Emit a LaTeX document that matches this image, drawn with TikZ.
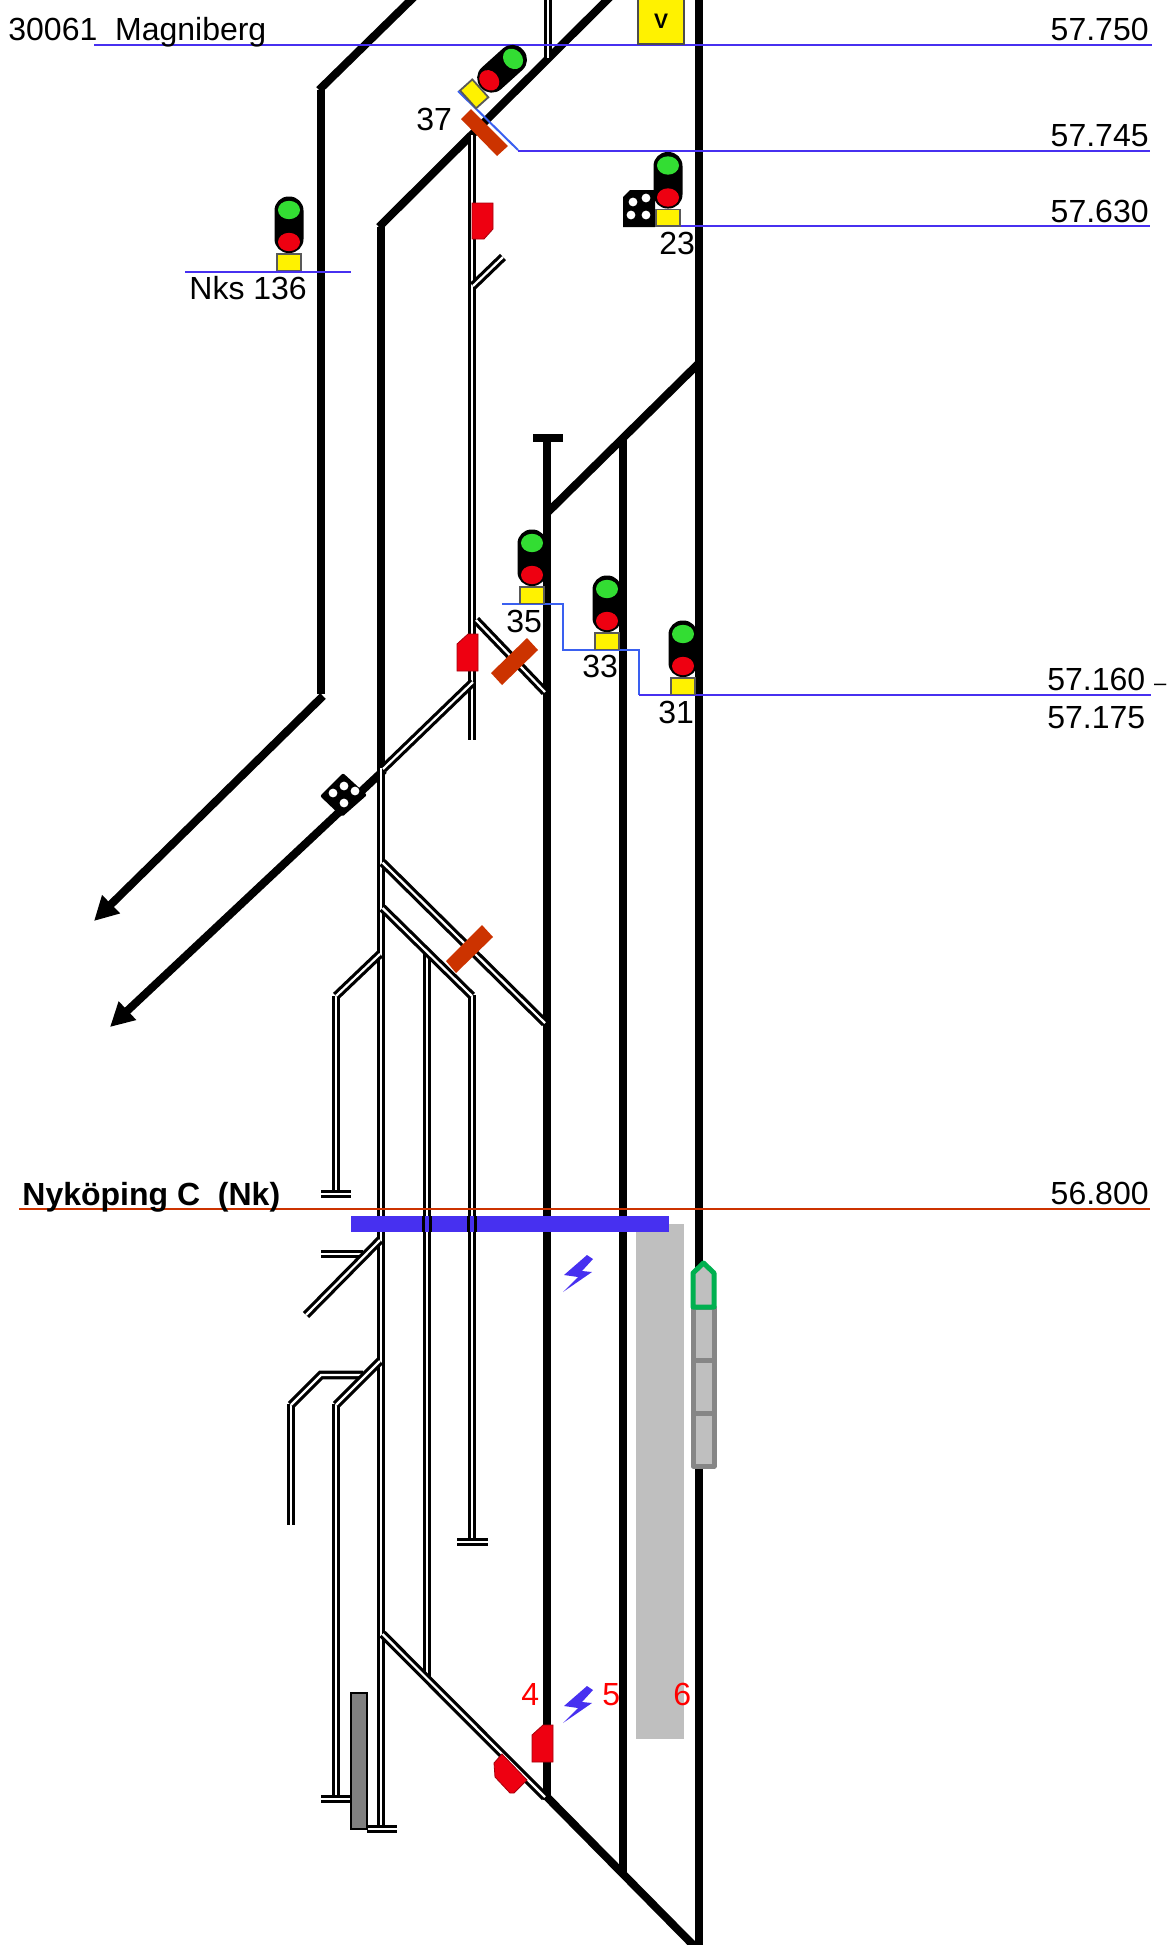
\documentclass[tikz,border=0pt]{standalone}
\usepackage{fontspec}
\setmainfont{Liberation Sans}
\usetikzlibrary{arrows.meta}
\definecolor{barblue}{HTML}{4730F0}
\definecolor{lineblue}{HTML}{4730F0}
\definecolor{stairblue}{HTML}{3A60F0}
\definecolor{rust}{HTML}{CC3300}
\definecolor{sigred}{HTML}{EE0011}
\definecolor{siggreen}{HTML}{33DD33}
\definecolor{trainin}{HTML}{BFBFBF}
\definecolor{trainedge}{HTML}{868686}
\definecolor{trainhead}{HTML}{00B050}
\definecolor{depot}{HTML}{808080}
\tikzset{
  thick track/.style={line width=4pt,line cap=butt},
  thin track/.style={line width=1.6pt,double=white,double distance=1.1pt,line cap=butt},
  thin rail/.style={line width=1.6pt,line cap=butt},
  km line/.style={draw=lineblue,line width=1pt},
  stair line/.style={draw=stairblue,line width=1pt},
  station line/.style={draw=rust,line width=1pt},
  lbl/.style={font=\fontsize{16pt}{18pt}\selectfont,inner sep=0pt,text=black},
  redlbl/.style={lbl,text=red},
  brake/.style={fill=rust,draw=none},
  stopper/.style={fill=sigred,draw=sigred!70!black,line width=.4pt},
  car/.style={fill=trainin,draw=trainedge,line width=2.5pt,line join=round},
  arrowtrack/.style={thick track,-{Stealth[length=12pt,width=12pt,inset=0pt]}},
}
\newcommand{\railsignal}[3]{%
  \begin{scope}[shift={(#1,#2)},rotate=#3]
    \fill[black,rounded corners=7pt] (-14.5,-74.5) rectangle (14.5,-18);
    \fill[siggreen] (0,-61) circle [x radius=5.5pt,y radius=4.6pt];
    \fill[sigred] (0,-29) circle [x radius=5.5pt,y radius=4.6pt];
    \draw[fill=yellow,draw=black!65,line width=.9pt] (-12,-17) rectangle (12,-0.5);
  \end{scope}}
\newcommand{\boltmark}[1]{%
  \fill[barblue,shift={(0,#1)}] (587,1255) -- (593,1259) -- (582,1271) -- (592,1272) -- (563,1292) -- (578,1277) -- (564,1275) -- cycle;}
\begin{document}
\begin{tikzpicture}[x=.5pt,y=-.5pt]
\useasboundingbox (0,0) rectangle (1167,1945);
\clip (0,0) rectangle (1167,1945);
\fill[white] (0,0) rectangle (1167,1945);

% platform
\fill[trainin] (636,1224) rectangle (684,1739);

% thick tracks
\draw[thick track] (699,-2) -- (699,1945);
\draw[thick track] (547,438) -- (547,1800);
\draw[thick track] (533,438) -- (563,438);
\draw[thick track] (623,437) -- (623,1875);
\draw[thick track] (699,363) -- (547,513);
\draw[thick track] (546,1796) -- (702,1954);
\draw[thick track] (321,90) -- (321,694);
\draw[thick track] (319,90) -- (416,-5);
\draw[thick track] (381,227) -- (381,771);
\draw[thick track] (379,227) -- (612,-5);
\draw[arrowtrack] (323,696) -- (94,921);
\draw[arrowtrack] (384,770) -- (110,1027);

% thin-track verticals
\draw[thin track] (381,768) -- (381,1828);
\draw[thin track] (427,953) -- (427,1678);
\draw[thin track] (472,135) -- (472,740);
\draw[thin track] (472,995) -- (472,1542);
\draw[thin track] (336,996) -- (336,1194);
\draw[thin track] (336,1404) -- (336,1798);
\draw[thin track] (291,1404) -- (291,1525);
\draw[thin track] (548,-2) -- (548,58);

% station bar, with the rails of two tracks showing through it
\fill[barblue] (351,1216) rectangle (669,1232);
\foreach \rx in {423.6,430.4,468.6,475.4}
  \draw[thin rail] (\rx,1216) -- (\rx,1232);

% thin-track horizontals and buffer stops
\draw[thin track] (363,1254) -- (321,1254);
\draw[thin track] (363,1375) -- (321,1375) -- (291,1405);
\draw[thin track] (321,1194) -- (351,1194);
\draw[thin track] (321,1799) -- (351,1799);
\draw[thin track] (367,1829) -- (397,1829);
\draw[thin track] (457,1542) -- (488,1542);

% thin-track diagonals
\draw[thin track] (476,620) -- (545,692);
\draw[thin track] (473,682) -- (383,769);
\draw[thin track] (382.5,862.5) -- (545,1023);
\draw[thin track] (382.5,908) -- (472,996);
\draw[thin track] (380,954) -- (336,996);
\draw[thin track] (380,1240) -- (306,1315);
\draw[thin track] (380,1361) -- (336,1405);
\draw[thin track] (382.5,1634) -- (545,1797);
\draw[thin track] (473,286) -- (503,257);

% depot block
\draw[fill=depot,draw=black,line width=.8pt] (351,1693) rectangle (367,1829);

% brake bars
\fill[brake] (471,109) -- (508,146) -- (497,156) -- (461,119) -- cycle;
\fill[brake] (527,638) -- (538,650) -- (502,685) -- (491,673) -- cycle;
\fill[brake] (482,925) -- (493,937) -- (456,973) -- (446,961) -- cycle;

% km lines
\draw[station line] (19,1209) -- (1150,1209);
\draw[km line] (94,45) -- (1152,45);
\draw[stair line] (458,91) -- (518,150);
\draw[km line] (518,150.5) -- (1150,150.5);
\draw[km line] (640,226) -- (1150,226);
\draw[km line] (185,271.5) -- (351,271.5);
\draw[stair line] (502,604) -- (563,604) -- (563,650) -- (639,650) -- (639,695);
\draw[km line] (639,695) -- (1151,695);

% V board
\draw[fill=yellow,draw=black!70,line width=.8pt] (638,-3) rectangle (684,44);
\node[lbl,anchor=base,font=\fontsize{10.5pt}{12pt}\selectfont\bfseries] (vboard) at (661,28) {V};

% dwarf signals
\fill[black] (623,227) -- (623,197) -- (630,190) -- (655,190) -- (655,227) -- cycle;
\foreach \px/\py in {633/202,646/198,631/215,646/215}
  \fill[white] (\px,\py) circle [radius=2.2pt];
\fill[black,rounded corners=1pt] (320,796) -- (343,773) -- (367,795) -- (342,817) -- cycle;
\foreach \px/\py in {344/786,333/793,355/791,344/803}
  \fill[white] (\px,\py) circle [radius=2.2pt];

% main signals
\railsignal{289}{271}{0}
\railsignal{668}{226.5}{0}
\railsignal{532}{604}{0}
\railsignal{607}{650}{0}
\railsignal{683}{695}{0}
\railsignal{467.7}{99.7}{-48}

% red stop markers
\fill[stopper] (472,203) -- (493,203) -- (493,229) -- (484,239) -- (472,239) -- cycle;
\fill[stopper] (457,644) -- (468,634) -- (478,634) -- (478,671) -- (457,671) -- cycle;
\fill[stopper] (532,1735) -- (543,1725) -- (553,1725) -- (553,1762) -- (532,1762) -- cycle;
\fill[stopper] (502,1754) -- (527,1780) -- (514,1793) -- (510,1793) -- (495,1777) -- (494,1763) -- cycle;

% train
\draw[car] (693,1307) rectangle (714,1360);
\draw[car] (693,1360) rectangle (714,1413);
\draw[car] (693,1413) rectangle (714,1466);
\draw[car,draw=trainhead] (693,1307) -- (693,1273) -- (703.5,1263) -- (714,1273) -- (714,1307) -- cycle;

% lightning
\boltmark{0}
\boltmark{431}

% labels
\node[lbl,anchor=base west] (magni) at (8,40) {30061~~Magniberg};
\node[lbl,anchor=base east] (k750) at (1149,40) {57.750};
\node[lbl,anchor=base east] (k745) at (1149,146) {57.745};
\node[lbl,anchor=base east] (k630) at (1149,222) {57.630};
\node[lbl,anchor=base west] (k160) at (1047,690) {57.160 {\fontsize{11pt}{14pt}\selectfont –}};
\node[lbl,anchor=base west] (k175) at (1047,728) {57.175};
\node[lbl,anchor=base east] (k800) at (1149,1204) {56.800};
\node[lbl,anchor=base west,font=\fontsize{16pt}{18pt}\selectfont\bfseries] (nyk) at (22,1205) {Nyköping C~~(Nk)};
\node[lbl,anchor=base west] (s37) at (416,130) {37};
\node[lbl,anchor=base west] (s23) at (659,254) {23};
\node[lbl,anchor=base west] (nks) at (189,299) {Nks 136};
\node[lbl,anchor=base west] (s35) at (506,632) {35};
\node[lbl,anchor=base west] (s33) at (582,677) {33};
\node[lbl,anchor=base west] (s31) at (658,723) {31};
\node[redlbl,anchor=base west] (t4) at (521,1705) {4};
\node[redlbl,anchor=base west] (t5) at (602,1705) {5};
\node[redlbl,anchor=base west] (t6) at (673,1705) {6};
\end{tikzpicture}
\end{document}
